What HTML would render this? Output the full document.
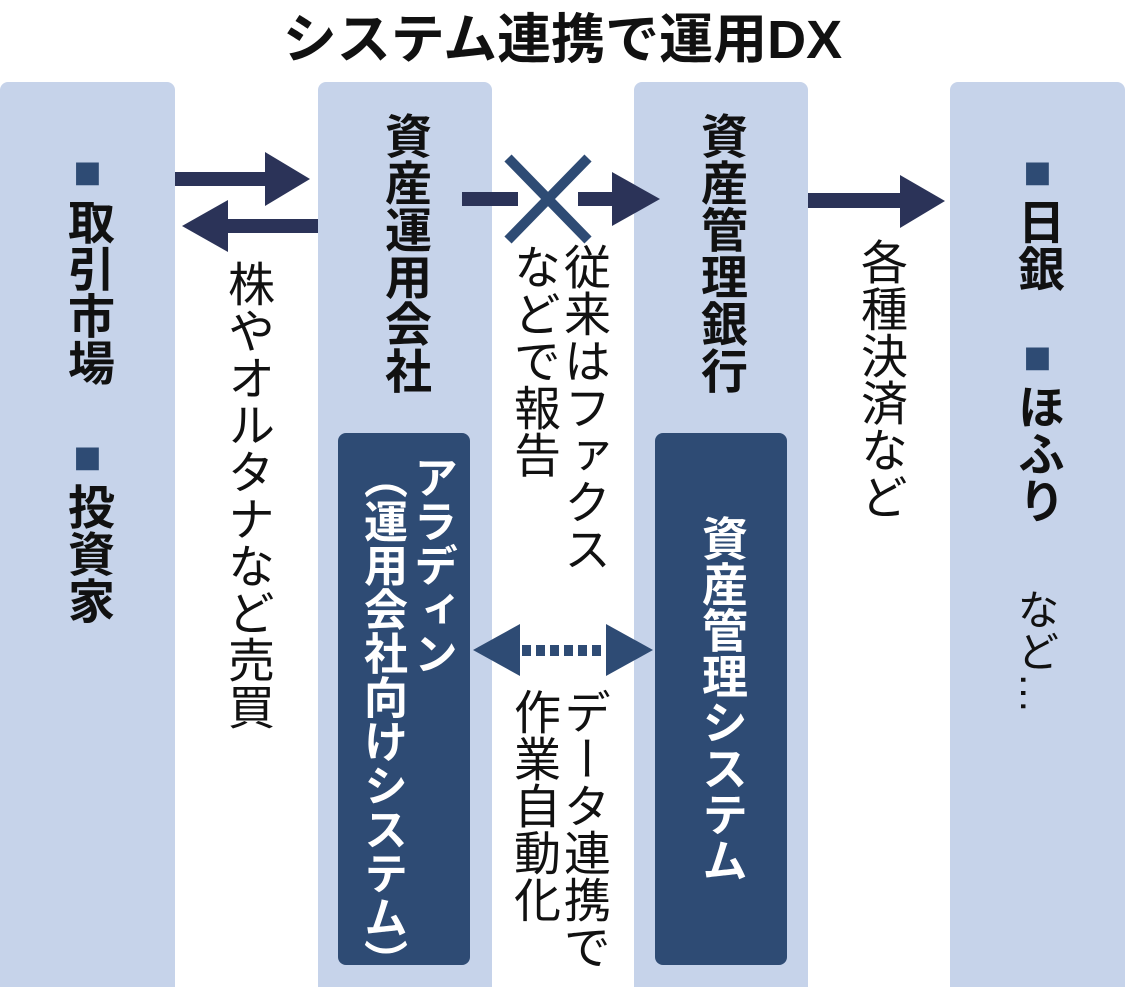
<!DOCTYPE html>
<html><head><meta charset="utf-8"><style>
body{margin:0;width:1125px;height:987px;background:#fff;position:relative;overflow:hidden;font-family:"Liberation Sans","Noto Sans CJK JP",sans-serif;color:#111}
.c{position:absolute;background:#c6d3ea;border-radius:8px 8px 0 0}
.d{position:absolute;background:#2e4b74;border-radius:8px}
.v{position:absolute;writing-mode:vertical-rl;white-space:nowrap}
.b{font-weight:bold;font-size:47px;line-height:50px}
.n{font-size:47px;line-height:50px}
.sq{color:#2e4b74}
</style></head><body>
<div style="position:absolute;left:0;width:1125px;top:8px;text-align:center;font-size:54px;font-weight:bold;line-height:64px">システム連携で運用DX</div>
<div class="c" style="left:0;top:82px;width:175px;height:905px"></div>
<div class="c" style="left:318px;top:82px;width:174px;height:905px"></div>
<div class="c" style="left:634px;top:82px;width:174px;height:905px"></div>
<div class="c" style="left:950px;top:82px;width:175px;height:905px"></div>
<div class="d" style="left:338px;top:433px;width:132px;height:532px"></div>
<div class="d" style="left:655px;top:433px;width:132px;height:532px"></div>

<div class="v b" style="left:62px;top:145px"><span class="sq">■</span>取引市場</div>
<div class="v b" style="left:62px;top:430px"><span class="sq">■</span>投資家</div>
<div class="v b" style="left:379px;top:112px">資産運用会社</div>
<div class="v b" style="left:695px;top:112px">資産管理銀行</div>
<div class="v b" style="left:1012px;top:145px"><span class="sq">■</span>日銀</div>
<div class="v b" style="left:1012px;top:330px"><span class="sq">■</span>ほふり</div>
<div class="v n" style="left:1010px;top:588px;font-size:42px">など…</div>

<div class="v n" style="left:222px;top:260px">株やオルタナなど売買</div>
<div class="v n" style="left:508px;top:243px">従来はファクス<br>などで報告</div>
<div class="v n" style="left:855px;top:238px">各種決済など</div>
<div class="v n" style="left:508px;top:688px">データ連携で<br>作業自動化</div>

<div class="v b" style="left:356px;top:455px;color:#fff;font-size:44px;line-height:50px">アラディン<br>（運用会社向けシステム）</div>
<div class="v b" style="left:697px;top:515px;color:#fff;font-size:46px">資産管理システム</div>

<svg style="position:absolute;left:0;top:0" width="1125" height="987">
<g fill="#2b3358">
<rect x="175" y="172" width="92" height="14"/><polygon points="265,152 310,179 265,206"/>
<rect x="226" y="219" width="92" height="14"/><polygon points="228,200 182,226 228,252"/>
<rect x="462" y="192" width="56" height="14"/>
<rect x="578" y="192" width="38" height="14"/><polygon points="612,172 660,199 612,226"/>
<rect x="808" y="193" width="94" height="15"/><polygon points="900,175 945,201 900,228"/>
</g>
<g stroke="#2e4b74" stroke-width="10"><line x1="508" y1="158" x2="588" y2="240"/><line x1="588" y1="158" x2="508" y2="240"/></g>
<g fill="#2e4b74">
<polygon points="520,624 473,650 520,676"/><polygon points="606,624 653,650 606,676"/>
<rect x="522" y="645" width="9" height="11"/><rect x="536" y="645" width="9" height="11"/><rect x="550" y="645" width="9" height="11"/><rect x="564" y="645" width="9" height="11"/><rect x="578" y="645" width="9" height="11"/><rect x="592" y="645" width="9" height="11"/>
</g>
</svg>
</body></html>
